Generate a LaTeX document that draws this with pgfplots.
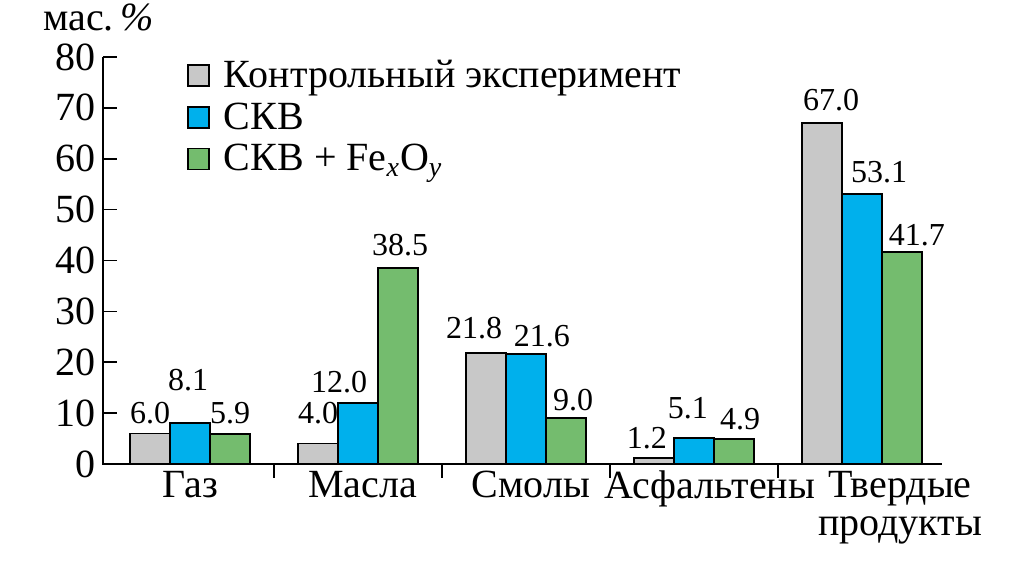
\documentclass[border=0pt]{standalone}
\usepackage{fontspec}
\setmainfont{Liberation Serif}
\usepackage{pgfplots}
\usepackage{pgfplotstable}
\pgfplotsset{compat=1.18}
\definecolor{cgrey}{RGB}{200,200,200}
\definecolor{cblue}{RGB}{0,176,236}
\definecolor{cgreen}{RGB}{116,188,110}
\pgfplotstableread{
x grey blue green
0 6.0 8.1 5.9
1 4.0 12.0 38.5
2 21.8 21.6 9.0
3 1.2 5.1 4.9
4 67.0 53.1 41.7
}\datatab
\pgfplotstableread{
x y label
-0.238 8.05 6.0
-0.012 14.5 8.1
0.238 8.05 5.9
0.762 8.05 4.0
0.887 14.1 12.0
1.250 40.9 38.5
1.691 24.75 21.8
2.095 23.05 21.6
2.280 10.6 9.0
2.720 3.1 1.2
2.964 9.0 5.1
3.274 6.7 4.9
3.816 69.5 67.0
4.101 55.4 53.1
4.327 43.0 41.7
}\labtab
\begin{document}
\begin{tikzpicture}
\begin{axis}[
  scale only axis,
  width=419.5pt, height=203.5pt,
  xmin=-0.518, xmax=4.476,
  ymin=0, ymax=80,
  clip=false,
  axis line style={draw=none},
  xtick pos=bottom, ytick pos=left,
  ytick={0,10,...,80},
  xtick={0.5,1.5,2.5,3.5},
  xticklabels={},
  extra x ticks={0,1.027,2.03,3.095,4.226},
  extra x tick labels={Газ,Масла,Смолы,Асфальтены,{Твердые\\продукты}},
  extra x tick style={major tick length=0pt},
  tick align=inside,
  major tick length=7pt,
  tick style={line width=0.8pt, black},
  x tick label style={align=center, font=\fontsize{20}{19}\selectfont},
  y tick label style={font=\fontsize{20}{22}\selectfont},
  /pgf/number format/assume math mode=true,
  ylabel={мас.\,\textit{\%}},
  ylabel style={rotate=-90, at={(rel axis cs:0,1)}, anchor=base west, xshift=-30pt, yshift=13.5pt, inner sep=0pt, font=\fontsize{20}{22}\selectfont},
  ybar=0pt,
  bar width=0.238,
  legend style={draw=none, fill=none, at={(rel axis cs:0,1)}, anchor=north west, xshift=39pt, yshift=2.5pt,
    font=\fontsize{20}{22}\selectfont, row sep=2pt, legend cell align=left,
    /tikz/every odd column/.append style={column sep=5pt}},
  legend image code/.code={\draw[#1, draw=black, line width=0.8pt] (0pt,-5.25pt) rectangle (10.5pt,5.25pt);},
]
\addplot[fill=cgrey, draw=black, line width=0.8pt] table[x=x, y=grey] {\datatab};
\addlegendentry{Контрольный эксперимент}
\addplot[fill=cblue, draw=black, line width=0.8pt] table[x=x, y=blue] {\datatab};
\addlegendentry{СКВ}
\addplot[fill=cgreen, draw=black, line width=0.8pt] table[x=x, y=green] {\datatab};
\addlegendentry{СКВ + Fe\textsubscript{\textit{x}}O\textsubscript{\textit{y}}}
\addplot[draw=none, mark=none, forget plot, only marks, bar shift=0,
  nodes near coords, point meta=explicit symbolic,
  nodes near coords style={anchor=base, inner sep=0pt, font=\fontsize{16}{18}\selectfont, black}]
  table[x=x, y=y, meta=label] {\labtab};
\draw[line width=0.8pt, black] (rel axis cs:0,1) -- (rel axis cs:0,0) -- (rel axis cs:1,0);
\end{axis}
\pgfresetboundingbox
\path[use as bounding box] (-51.5pt,-48.5pt) rectangle (455.5pt,232pt);
\end{tikzpicture}
\end{document}
